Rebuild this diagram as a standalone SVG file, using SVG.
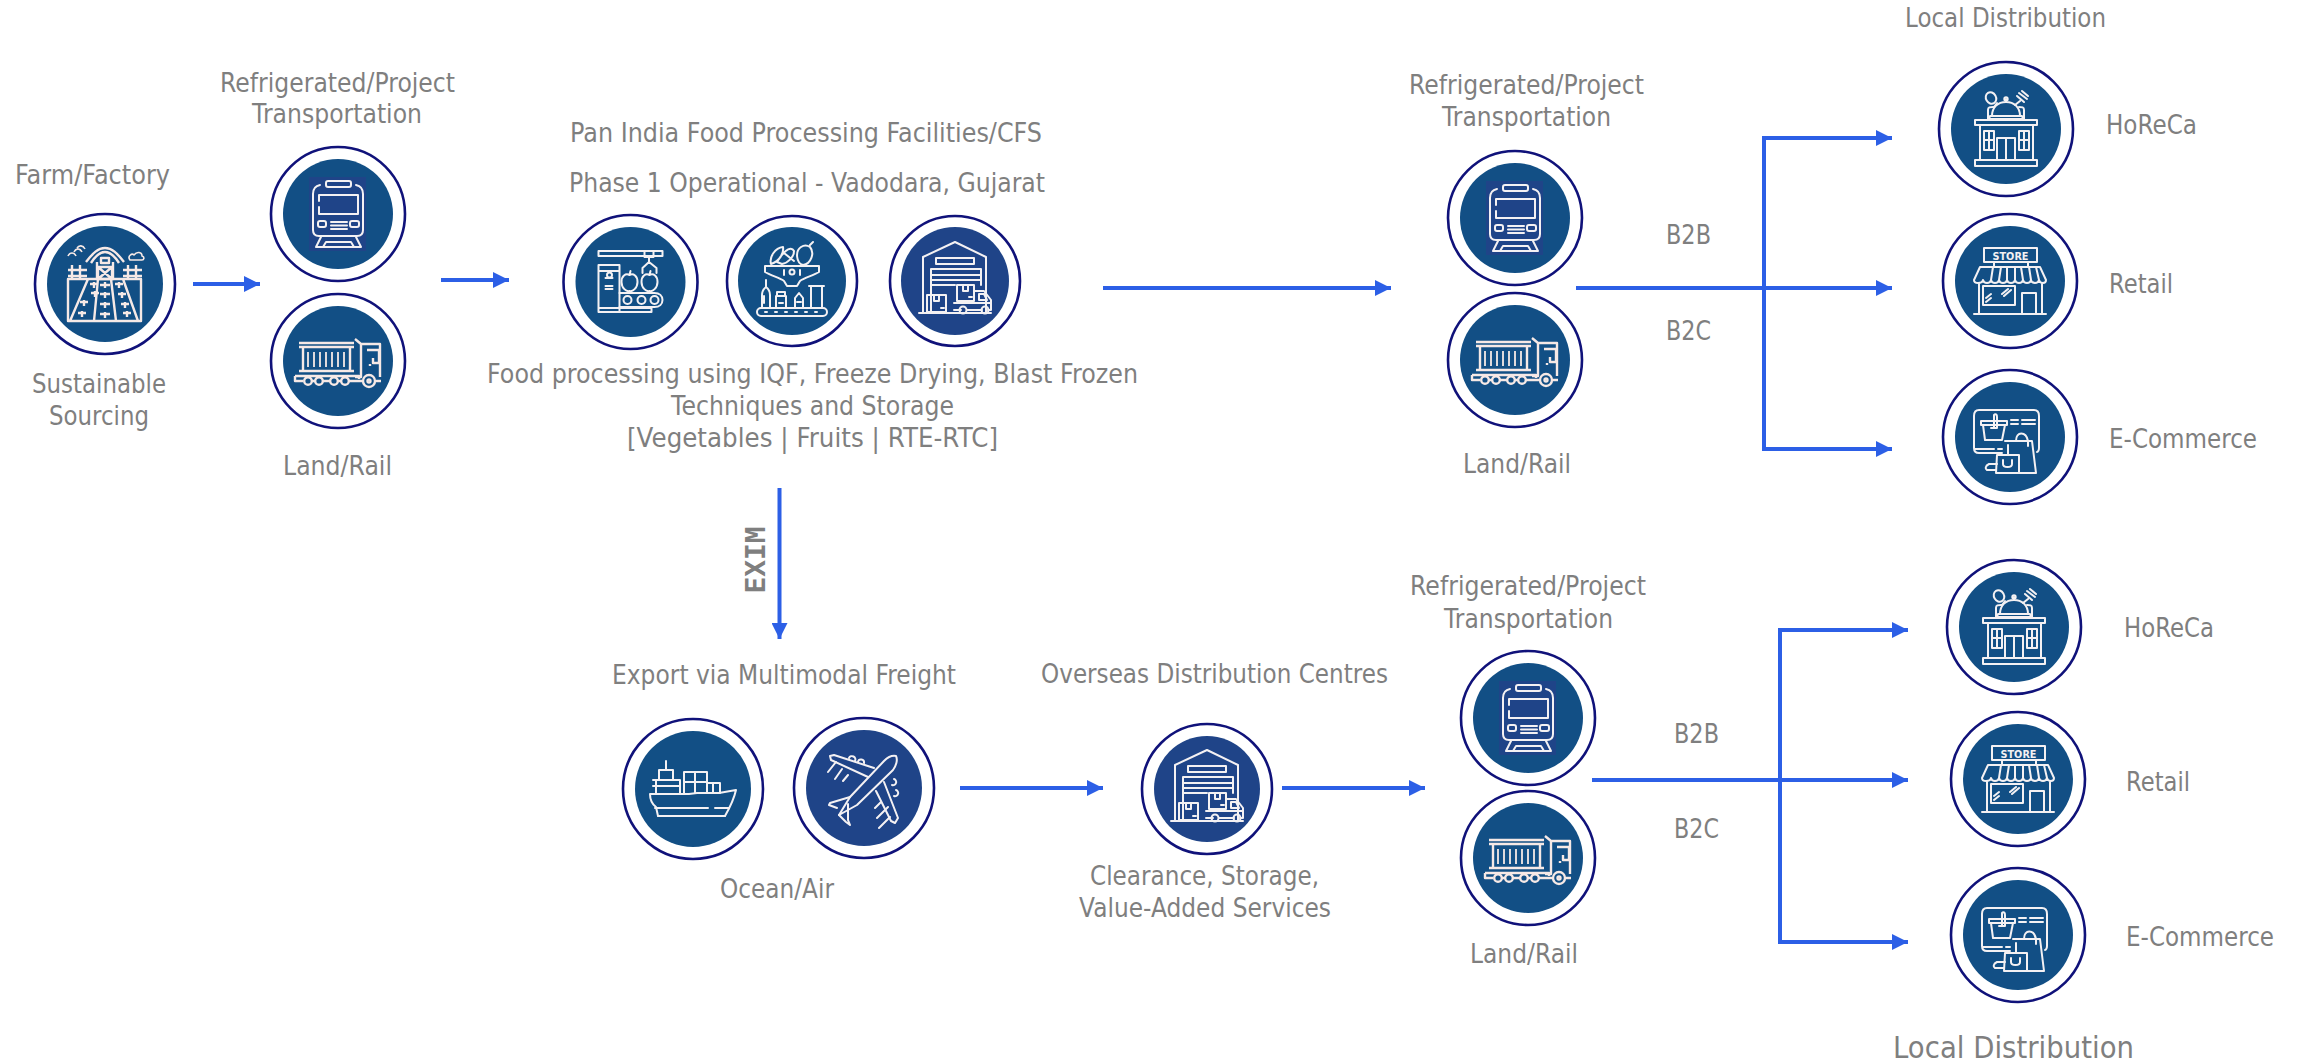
<svg xmlns="http://www.w3.org/2000/svg" width="2297" height="1064" viewBox="0 0 2297 1064">
<style>
text{font-family:"DejaVu Sans","Liberation Sans",sans-serif;font-size:26px;fill:#7f7f7f}
.ring{fill:#fff;stroke:#10127a;stroke-width:2.600}
.disc{fill:#124f85}
.disc2{fill:#1f4488}
.ic{fill:none;stroke:#f4f1f3;stroke-width:2;stroke-linecap:round;stroke-linejoin:round}
.ic2{fill:none;stroke:#f6e9e6;stroke-width:2.400;stroke-linejoin:round}
.cn{fill:none;stroke:#2c5fe6;stroke-width:4}
</style>
<defs>
<marker id="ah" markerUnits="userSpaceOnUse" markerWidth="16" markerHeight="16" refX="16" refY="8" orient="auto"><path d="M0 0L16 8L0 16Z" fill="#2c5fe6"/></marker>
<g id="farm" class="ic2">
<path d="M-37-5H36V37H-37ZM-17-5L-35 37M-7-5L-11 37M6-5L11 37M18-5L33 37"/>
<path d="M-19-22C-12-31-7-36 0-36C7-36 12-31 19-22M-14-21C-9-29-5-32 0-32C5-32 9-29 14-21M-8-22V-5H8V-22M-4-26H4V-21H-4ZM-7-17H7V-5H-7ZM-7-17L7-5M7-17L-7-5"/>
<path d="M-37-14H-18M-37-8H-18M-33-19V-5M-25-19V-5M18-14H37M18-8H37M23-19V-5M31-19V-5"/>
<path d="M-37-28C-35-32-31-32-29-28M-31-32C-29-36-25-36-23-32M-28-36C-26-39-22-39-20-35M25-24C22-28 27-31 29-29C32-33 37-32 37-28C40-27 39-24 37-24Z" stroke-width="1.6"/>
<path d="M-15 0H-7M-11-2V4M-14 9H-6M-10 7V13M-25 18H-17M-21 16V22M-27 29H-19M-23 27V33M-5 1H5M0-2V4M-5 10H5M0 8V14M-5 20H5M0 18V24M-5 30H5M0 28V34M10 0H18M14-2V4M13 10H21M17 8V14M16 20H24M20 18V24M18 29H26M22 27V33"/>
</g>
<g id="train">
<rect x="-29" y="-37" width="57" height="74" fill="#1f4488"/>
<g class="ic">
<rect x="-12" y="-33" width="25" height="6" rx="2"/>
<path d="M-18-29C-23-28-25-25-25-20V16C-25 20-23 22-19 22H19C23 22 25 20 25 16V-20C25-25 23-28 18-29"/>
<path d="M-19-13V-19H20V0H-19V-7"/>
<rect x="-20" y="7" width="8" height="6" rx="2"/><rect x="12" y="7" width="9" height="6" rx="2"/>
<path d="M-7 8H9M-7 11.500H9M-7 15H9M-17 23L-22 33H-15L-12 28H13L16 33H23L18 23M-14 33H15"/>
</g>
</g>
<g id="truck" class="ic2">
<path d="M-39-18H16M-39-14H16M-39 10H16M-35-14V10M12-14V10"/>
<path d="M-30-9V6M-24-9V6M-18-9V6M-12-9V6M-6-9V6M0-9V6M6-9V6" stroke-width="1.8"/>
<path d="M17-22L23-17H42V16M23-17V16H17M29-11H41V2H35V-3M32 3V5"/>
<path d="M-43 15H21V18M-43 15V20H-35M-26 20H-23M-15 20H-8M0 20H3M11 20H24M38 20H43"/>
<circle cx="-30" cy="20" r="3.800"/><circle cx="-19" cy="20" r="3.800"/><circle cx="-4" cy="20" r="3.800"/><circle cx="7" cy="20" r="3.800"/><circle cx="31" cy="20" r="6"/><circle cx="31" cy="20" r="1.500"/>
</g>
<g id="conveyor" class="ic">
<path d="M-32-31H32V-26H-32ZM14-31H23V-25H14ZM18.500-25V-20M18.500-20L12-14V-9M18.500-20L26-14V-9"/>
<path d="M-32-17H-11V30H-32ZM-32-11H-11M-25-4H-18M-25 4H-18M-25 7H-18M-32 26H21V30H-32Z"/>
<circle cx="-21" cy="-7" r="2.500"/>
<path d="M-11 11H24C29 11 32 14 32 18C32 22 29 25 24 25H-11"/>
<circle cx="-3" cy="18" r="4"/><circle cx="11" cy="18" r="4"/><circle cx="24" cy="18" r="4"/>
<path d="M-1-7C-5-9-9-6-9 0C-9 6-4 10-1 9C2 10 7 6 7 0C7-6 3-9-1-7M-1-7L0-11M19-7C15-9 11-6 11 0C11 6 16 10 19 9C22 10 27 6 27 0C27-6 23-9 19-7M19-7L20-11"/>
</g>
<g id="fruit" class="ic">
<path d="M-21-17C-23-24-17-33-9-34C-8-28-12-20-21-17ZM-15-19C-6-34 0-34 2-30C2-24-4-18-10-17ZM-8-28L2-20"/>
<path d="M9-34C3-30 4-18 11-16C19-17 23-28 18-34C15-36 12-36 9-34ZM18-36L21-39"/>
<path d="M-27-15H27V-9C20-5 12-3 8 0L5 5H-5L-8 0C-12-3-20-5-27-9Z"/>
<circle cx="0" cy="-9" r="2.500"/><path d="M-8-11V-6M8-11V-6"/>
<path d="M-26-1V6C-30 9-30 12-30 14V27H-22V14C-22 12-22 9-26 6M-28 15V22"/>
<path d="M-16 15H-6V27H-16ZM-15 11H-7V15H-15ZM-13 22H-9M3 27V17L7 12L11 17V27ZM5 21H9M19 5H30V27H19ZM17 5H32"/>
<rect x="-35" y="27" width="70" height="8" rx="4"/>
<path d="M-27 31H-25M-17 31H-15M-7 31H-5M3 31H5M13 31H15M23 31H25"/>
</g>
<g id="warehouse" class="ic">
<path d="M-32 31V-24L0-39L31-24V31"/>
<path d="M-19-23H19V-17H-19ZM-24 31V-12H26V4M-24-6H26M-24-1H26M-24 4H0"/>
<path d="M-28 14H-9V31H-28ZM-21 14V20H-16V14M-14 27H-11"/>
<path d="M2 4H19V20H2ZM8 4V10H13V4M14 16H17M-1 22H36V29H33M27 29H12M6 29H-1ZM19 10H29L36 19V22M24 13H29L32 19H24Z"/>
<circle cx="8" cy="29" r="3.500"/><circle cx="30" cy="29" r="3.500"/>
<path d="M-36 32H36"/>
</g>
<g id="ship" class="ic">
<path d="M-43 5H-4L4 4H26L43 1C41 10 36 20 32 27H-35L-37 18C-41 15-43 10-43 5Z"/>
<path d="M-38 19H15M22 19H36M-35 27H32"/>
<path d="M-27-28V-19M-34-19H-20V-9H-34ZM-40-9H-13V4M-37-9V4M-40-3H-13"/>
<path d="M-9 4V-17H14V4M2-17V4M-9-7H14M14-6H27V4M20-6V4"/>
</g>
<g id="plane" class="ic">
<path d="M32-32C27-33 23-30 20-27L-14 9L-25 27L-7 17L29-18C32-22 34-28 32-32Z"/>
<path d="M4-11L-33-28L-34-32L-30-33L10-20M20-6L34 30L31 35L27 33L12 3M-14 9L-34 15L-35 17L-27 20M-16 16L-16 32L-14 37L-18 34L-25 27"/>
<path d="M-15-30A3 3 0 0 1-9-27M-6-26A3 3 0 0 1 0-25M30-9A3 3 0 0 1 28-3M32 2A3 3 0 0 1 30 8"/>
<path d="M-36-16L-28-26M-29-9L-22-19M-21-7L-16-13M11 20L17 14M13 30L24 19M15 40L26 29"/>
</g>
<g id="horeca" class="ic">
<path d="M-26-4V31M27-4V31M-31-9H31V-4H-31ZM-31 31H31V37H-31Z"/>
<path d="M-9 31V9H9V31M0 9V31M-22 2H-12V21H-22ZM-17 2V21M-22 11H-12M13 2H23V21H13ZM18 2V21M13 11H23"/>
<path d="M-16-13H16L17-10H-17ZM-14-13C-14-22-8-27 0-27C8-27 14-22 14-13M0-27V-30"/>
<circle cx="0" cy="-30" r="1.700"/>
<path d="M-18-9V-19C-18-22-16-22-13-22M18-9V-19C18-22 16-22 13-22M-12-22L-9-26"/>
<ellipse cx="-15" cy="-31" rx="5" ry="6" transform="rotate(-30 -15 -31)"/>
<path d="M9-24L14-28M11-33L18-27M13-36L21-30M16-38L22-33"/>
</g>
<g id="store">
<g class="ic">
<rect x="-26" y="-33" width="53" height="14"/>
<path d="M-16-19V-14M18-19V-14M-30-14H30L36-1C36 3 30 3 29-1C28 3 22 3 21-1C20 3 14 3 13-1C12 3 6 3 5-1C4 3-2 3-3-1C-4 3-10 3-11-1C-12 3-18 3-19-1C-20 3-26 3-27-1C-28 3-36 3-36-1ZM-19-1L-17-14M-11-1L-9-14M-3-1V-14M5-1V-14M13-1L11-14M21-1L19-14M29-1L26-14"/>
<path d="M-31 3V33M32 3V33M-36 33H36M-27 5H5V24H-27ZM12 33V12H26V33M-2 8L-8 13M1 9L-6 15M-24 17L-19 13M-24 21L-19 17"/>
</g>
<text x="0.500" y="-21.500" text-anchor="middle" textLength="36" lengthAdjust="spacingAndGlyphs" style="font-size:10.500px;font-weight:bold;fill:#f4f1f3">STORE</text>
</g>
<g id="ecom" class="ic">
<path d="M-8 16H-31C-34 16-36 14-36 11V-21C-36-25-34-27-31-27H24C27-27 29-25 29-21V11C29 13 28 15 27 15"/>
<path d="M-35 12H-16M-12 12H-8"/>
<path d="M-29-16H-3V-12H-29ZM-27-12L-25 3H-8L-5-12M-16-22V-9M-16-22C-14-24-13-22-13-20V-9M-19-9H-13"/>
<path d="M1-17H8M12-17H25M1-13H8M12-13H25"/>
<path d="M-5 4H22L26 36H9M-2 8V17M6 4C6-6 16-6 18 4V9"/>
<path d="M-13 18H9V36H-14ZM-7 23V27C-7 31 2 31 2 27V23"/>
<path d="M-13 27H-21C-25 29-25 32-23 33H-14"/>
</g>
</defs>
<g id="connectors" class="cn">
<path d="M193 284H260" marker-end="url(#ah)"/>
<path d="M441 280H509" marker-end="url(#ah)"/>
<path d="M1103 288H1391" marker-end="url(#ah)"/>
<path d="M1576 288H1892" marker-end="url(#ah)"/>
<path d="M1764 138V449"/>
<path d="M1762 138H1892" marker-end="url(#ah)"/>
<path d="M1762 449H1892" marker-end="url(#ah)"/>
<path d="M779.500 488V639" marker-end="url(#ah)"/>
<path d="M960 788H1103" marker-end="url(#ah)"/>
<path d="M1282 788H1425" marker-end="url(#ah)"/>
<path d="M1592 780H1908" marker-end="url(#ah)"/>
<path d="M1780 630V942"/>
<path d="M1778 630H1908" marker-end="url(#ah)"/>
<path d="M1778 942H1908" marker-end="url(#ah)"/>
</g>
<g id="farm-node">
<circle class="ring" cx="105" cy="284" r="70"/><circle class="disc" cx="105" cy="284" r="58"/><use href="#farm" x="105" y="284"/>
<text x="15" y="184" textLength="155" lengthAdjust="spacingAndGlyphs">Farm/Factory</text>
<text x="32" y="393" textLength="134" lengthAdjust="spacingAndGlyphs">Sustainable</text>
<text x="49" y="425" textLength="100" lengthAdjust="spacingAndGlyphs">Sourcing</text>
</g>
<g id="transport-1">
<text x="220" y="92" textLength="235" lengthAdjust="spacingAndGlyphs">Refrigerated/Project</text>
<text x="252" y="123" textLength="170" lengthAdjust="spacingAndGlyphs">Transportation</text>
<circle class="ring" cx="338" cy="214" r="67"/><circle class="disc" cx="338" cy="214" r="55"/><use href="#train" x="338" y="214"/>
<circle class="ring" cx="338" cy="361" r="67"/><circle class="disc" cx="338" cy="361" r="55"/><use href="#truck" x="338" y="361"/>
<text x="283" y="475" textLength="109" lengthAdjust="spacingAndGlyphs">Land/Rail</text>
</g>
<g id="processing">
<text x="570" y="142" textLength="472" lengthAdjust="spacingAndGlyphs">Pan India Food Processing Facilities/CFS</text>
<text x="569" y="192" textLength="476" lengthAdjust="spacingAndGlyphs">Phase 1 Operational - Vadodara, Gujarat</text>
<circle class="ring" cx="630.500" cy="282" r="67"/><circle class="disc" cx="630.500" cy="282" r="55"/><use href="#conveyor" x="630.500" y="282"/>
<circle class="ring" cx="792" cy="281" r="65"/><circle class="disc" cx="792" cy="281" r="54"/><use href="#fruit" x="792" y="281"/>
<circle class="ring" cx="955" cy="281" r="65"/><circle class="disc2" cx="955" cy="281" r="54"/><use href="#warehouse" x="955" y="281"/>
<text x="487" y="383" textLength="651" lengthAdjust="spacingAndGlyphs">Food processing using IQF, Freeze Drying, Blast Frozen</text>
<text x="671" y="415" textLength="283" lengthAdjust="spacingAndGlyphs">Techniques and Storage</text>
<text x="627" y="447" textLength="371" lengthAdjust="spacingAndGlyphs">[Vegetables | Fruits | RTE-RTC]</text>
</g>
<g id="transport-2">
<text x="1409" y="94" textLength="235" lengthAdjust="spacingAndGlyphs">Refrigerated/Project</text>
<text x="1442" y="126" textLength="169" lengthAdjust="spacingAndGlyphs">Transportation</text>
<circle class="ring" cx="1515" cy="218" r="67"/><circle class="disc" cx="1515" cy="218" r="55"/><use href="#train" x="1515" y="218"/>
<circle class="ring" cx="1515" cy="360" r="67"/><circle class="disc" cx="1515" cy="360" r="55"/><use href="#truck" x="1515" y="360"/>
<text x="1463" y="473" textLength="108" lengthAdjust="spacingAndGlyphs">Land/Rail</text>
<text x="1666" y="244" textLength="45" lengthAdjust="spacingAndGlyphs">B2B</text>
<text x="1666" y="340" textLength="45" lengthAdjust="spacingAndGlyphs">B2C</text>
</g>
<g id="local-1">
<text x="1905" y="27" textLength="201" lengthAdjust="spacingAndGlyphs">Local Distribution</text>
<circle class="ring" cx="2006" cy="129" r="67"/><circle class="disc" cx="2006" cy="129" r="55"/><use href="#horeca" x="2006" y="129"/>
<text x="2106" y="134" textLength="91" lengthAdjust="spacingAndGlyphs">HoReCa</text>
<circle class="ring" cx="2010" cy="281" r="67"/><circle class="disc" cx="2010" cy="281" r="55"/><use href="#store" x="2010" y="281"/>
<text x="2109" y="293" textLength="64" lengthAdjust="spacingAndGlyphs">Retail</text>
<circle class="ring" cx="2010" cy="437" r="67"/><circle class="disc" cx="2010" cy="437" r="55"/><use href="#ecom" x="2010" y="437"/>
<text x="2109" y="448" textLength="148" lengthAdjust="spacingAndGlyphs">E-Commerce</text>
</g>
<text id="exim" transform="translate(765 560) rotate(-90)" text-anchor="middle" textLength="67" lengthAdjust="spacingAndGlyphs" style="font-family:'DejaVu Sans Mono',monospace;font-weight:bold;font-size:27px">EXIM</text>
<g id="export">
<text x="612" y="684" textLength="344" lengthAdjust="spacingAndGlyphs">Export via Multimodal Freight</text>
<circle class="ring" cx="693" cy="789" r="70"/><circle class="disc" cx="693" cy="789" r="58"/><use href="#ship" x="693" y="789"/>
<circle class="ring" cx="864" cy="788" r="70"/><circle class="disc2" cx="864" cy="788" r="58"/><use href="#plane" x="864" y="788"/>
<text x="720" y="898" textLength="114" lengthAdjust="spacingAndGlyphs">Ocean/Air</text>
</g>
<g id="overseas">
<text x="1041" y="683" textLength="347" lengthAdjust="spacingAndGlyphs">Overseas Distribution Centres</text>
<circle class="ring" cx="1207" cy="789" r="65"/><circle class="disc2" cx="1207" cy="789" r="53"/><use href="#warehouse" x="1207" y="789"/>
<text x="1090" y="885" textLength="229" lengthAdjust="spacingAndGlyphs">Clearance, Storage,</text>
<text x="1079" y="917" textLength="252" lengthAdjust="spacingAndGlyphs">Value-Added Services</text>
</g>
<g id="transport-3">
<text x="1410" y="595" textLength="236" lengthAdjust="spacingAndGlyphs">Refrigerated/Project</text>
<text x="1444" y="628" textLength="169" lengthAdjust="spacingAndGlyphs">Transportation</text>
<circle class="ring" cx="1528" cy="718" r="67"/><circle class="disc" cx="1528" cy="718" r="55"/><use href="#train" x="1528" y="718"/>
<circle class="ring" cx="1528" cy="858" r="67"/><circle class="disc" cx="1528" cy="858" r="55"/><use href="#truck" x="1528" y="858"/>
<text x="1470" y="963" textLength="108" lengthAdjust="spacingAndGlyphs">Land/Rail</text>
<text x="1674" y="743" textLength="45" lengthAdjust="spacingAndGlyphs">B2B</text>
<text x="1674" y="838" textLength="45" lengthAdjust="spacingAndGlyphs">B2C</text>
</g>
<g id="local-2">
<circle class="ring" cx="2014" cy="627" r="67"/><circle class="disc" cx="2014" cy="627" r="55"/><use href="#horeca" x="2014" y="627"/>
<text x="2124" y="637" textLength="90" lengthAdjust="spacingAndGlyphs">HoReCa</text>
<circle class="ring" cx="2018" cy="779" r="67"/><circle class="disc" cx="2018" cy="779" r="55"/><use href="#store" x="2018" y="779"/>
<text x="2126" y="791" textLength="64" lengthAdjust="spacingAndGlyphs">Retail</text>
<circle class="ring" cx="2018" cy="935" r="67"/><circle class="disc" cx="2018" cy="935" r="55"/><use href="#ecom" x="2018" y="935"/>
<text x="2126" y="946" textLength="148" lengthAdjust="spacingAndGlyphs">E-Commerce</text>
<text x="1893" y="1058" textLength="241" lengthAdjust="spacingAndGlyphs" style="font-size:31px">Local Distribution</text>
</g>
</svg>
